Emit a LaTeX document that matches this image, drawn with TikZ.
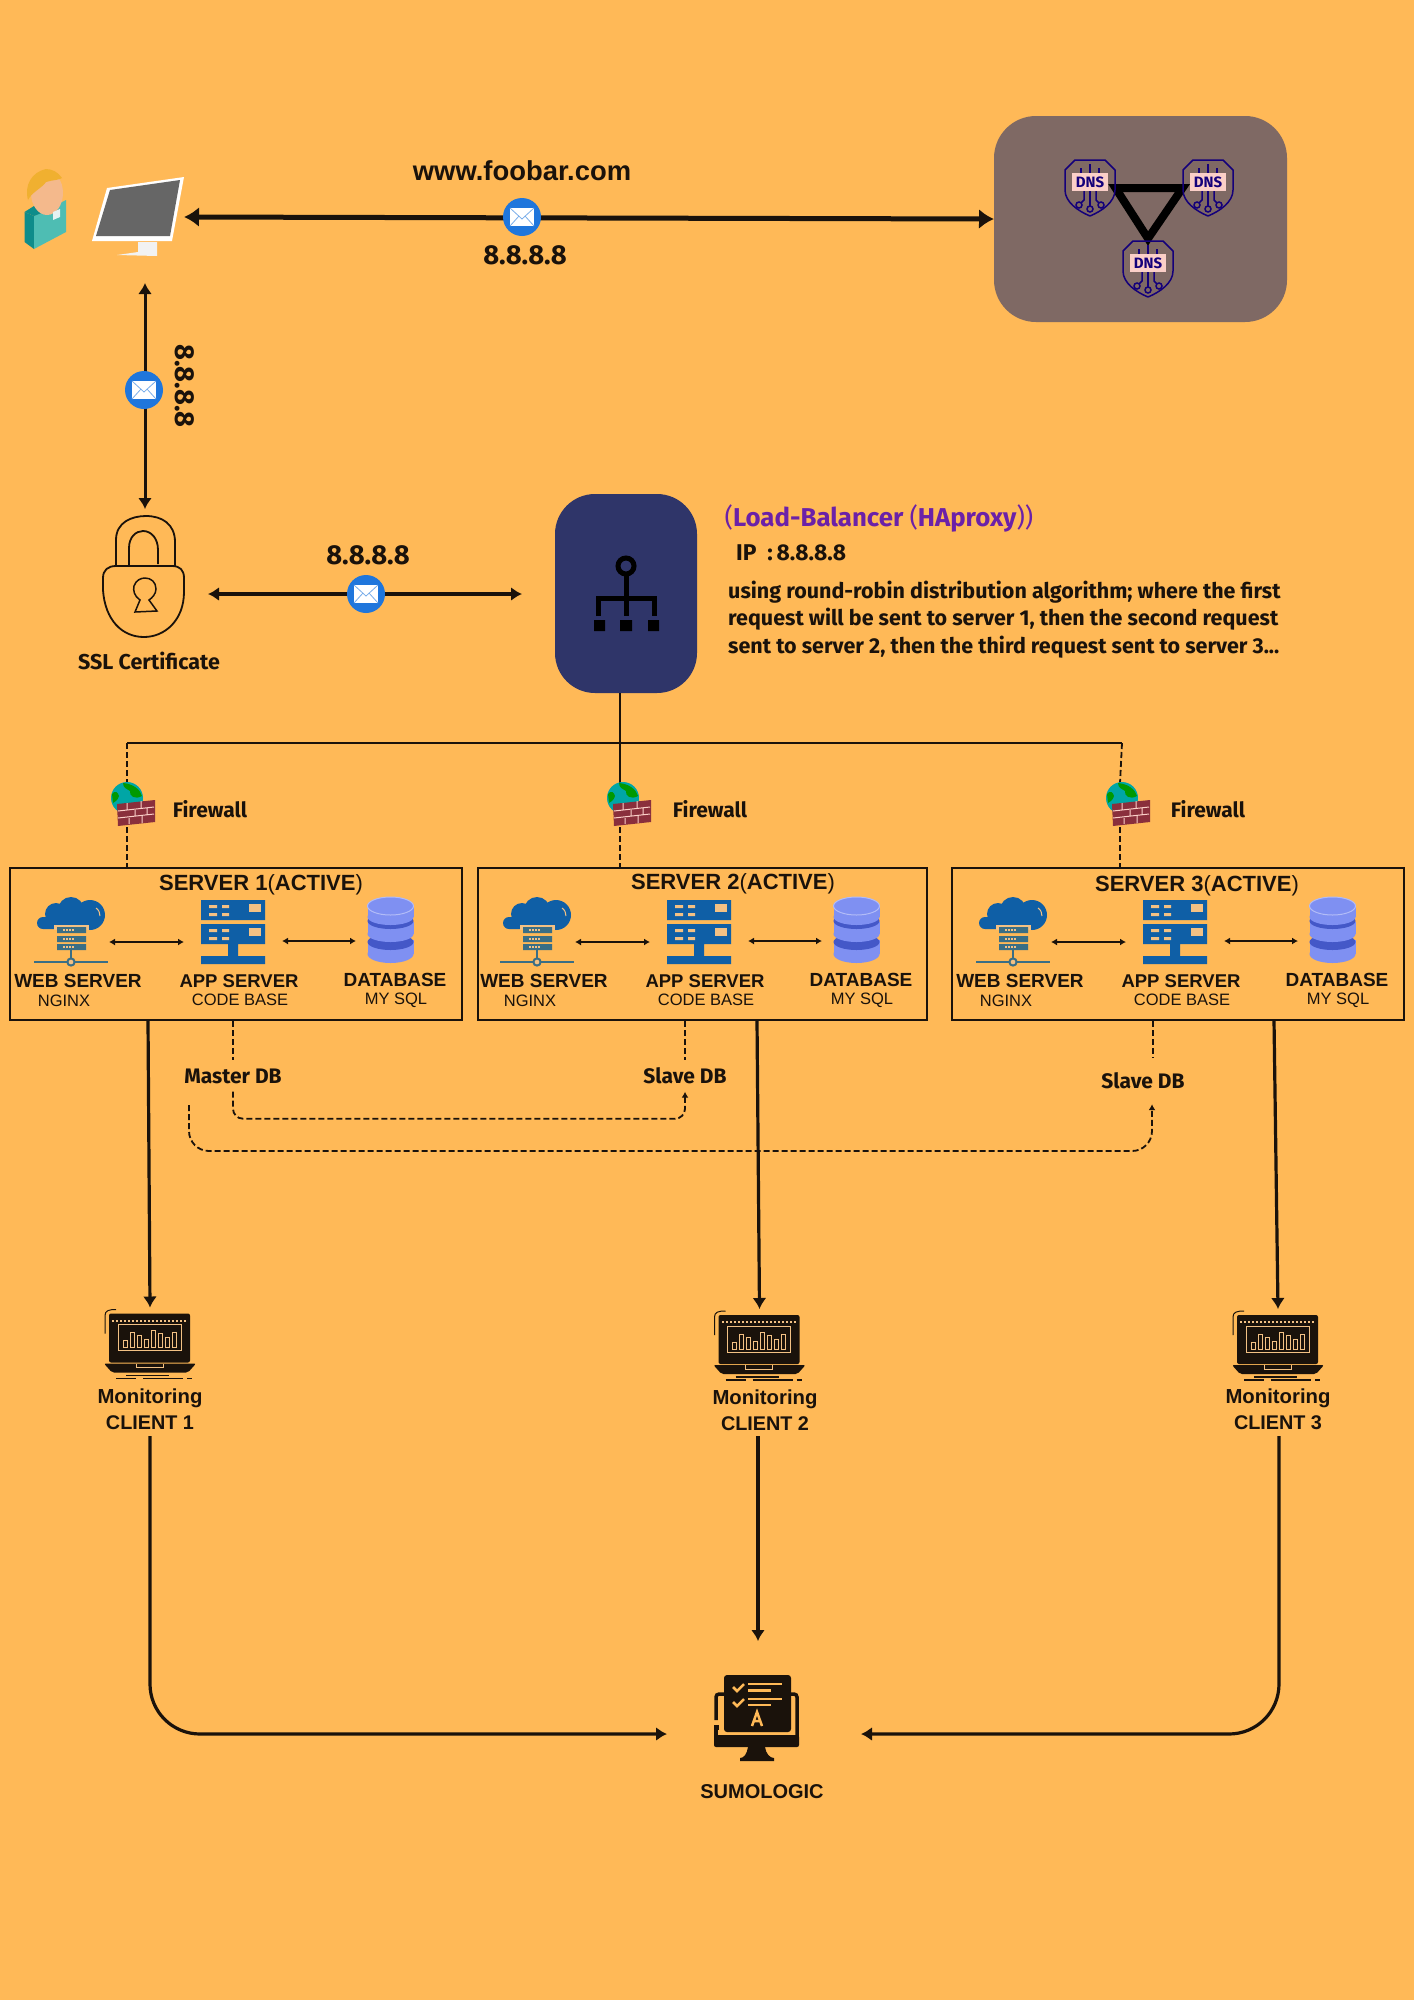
\documentclass[tikz,border=0pt]{standalone}
\usepackage{fontspec}
\setmainfont{Fira Sans}
\newfontfamily\capfont{Liberation Sans}
\usetikzlibrary{arrows.meta}
\definecolor{bgcolor}{HTML}{FFB957}
\definecolor{inkcolor}{HTML}{1A120B}
\definecolor{dnscolor}{HTML}{7F6964}
\definecolor{lbcolor}{HTML}{2F3569}
\definecolor{mailblue}{HTML}{1F76DC}
\definecolor{iconblue}{HTML}{0F5FA6}
\definecolor{slatecolor}{HTML}{3A6E85}
\definecolor{dblight}{HTML}{7F90F2}
\definecolor{dbdark}{HTML}{4458C8}
\definecolor{navycolor}{HTML}{14007A}
\definecolor{pinkcolor}{HTML}{FBCFC8}
\definecolor{purplecolor}{HTML}{6B21A8}
\definecolor{tancolor}{HTML}{F3C184}
\definecolor{brickcolor}{HTML}{8A2F3C}
\definecolor{bodylight}{HTML}{4EBDB3}
\definecolor{bodydark}{HTML}{0E8C8A}
\definecolor{skincolor}{HTML}{F4B98C}
\definecolor{haircolor}{HTML}{F0B030}
\newcommand{\fsz}[1]{\fontsize{#1}{#1}\selectfont}
\tikzset{mailnode/.style = {circle, fill=mailblue, minimum size=38pt, inner sep=0pt}}
\tikzset{iconbox/.style = {inner sep=0pt, outer sep=0pt}}
\tikzset{dottext/.style = {text=inkcolor, inner sep=0pt, font=\fsz{27.4}\bfseries}}
\tikzset{midtext/.style = {text=inkcolor, inner sep=0pt, font=\fsz{21}\bfseries}}
\tikzset{captext/.style = {text=inkcolor, inner sep=0pt, font=\capfont\fsz{19}\bfseries}}
\tikzset{capsub/.style = {text=inkcolor, inner sep=0pt, font=\capfont\fsz{16.5}}}
\tikzset{dbtag/.style = {midtext, minimum height=31pt, minimum width=80pt}}
\tikzset{serverbox/.style = {draw=inkcolor, line width=2.2pt, inner sep=0pt, minimum height=152pt}}
\tikzset{bigarrow/.style = {draw=inkcolor, line width=5pt, {Latex[length=15pt, width=20pt]}-{Latex[length=15pt, width=20pt]}}}
\tikzset{sidearrow/.style = {draw=inkcolor, line width=3pt, {Latex[length=11pt, width=14pt]}-{Latex[length=11pt, width=14pt]}}}
\tikzset{midarrow/.style = {draw=inkcolor, line width=3.2pt, -{Latex[length=11pt, width=14pt]}}}
\tikzset{twoarrow/.style = {draw=inkcolor, line width=3.6pt, {Latex[length=11pt, width=14pt]}-{Latex[length=11pt, width=14pt]}}}
\tikzset{smallarrow/.style = {draw=inkcolor, line width=1.8pt, {Latex[length=6pt, width=7pt]}-{Latex[length=6pt, width=7pt]}}}
\tikzset{dashline/.style = {draw=inkcolor, line width=1.8pt, dash pattern=on 6pt off 3pt}}
\tikzset{dbroute/.style = {dashline, -{Latex[length=6pt, width=7pt]}}}
\tikzset{mailglyph/.pic = {
    \fill [white] (-12, -9) rectangle (12, 9);
    \draw [mailblue!60!white, line width=0.8pt] (-12, -9) -- (0, 2) -- (12, -9) (-12, 9) -- (-3, -1) (12, 9) -- (3, -1);
  }}
\tikzset{shieldglyph/.pic = {
    \draw [navycolor, line width=1.5pt, line join=round] (-15, -28) -- (15, -28) -- (25, -18) -- (25, 2)
      .. controls (25, 14) and (12, 23) .. (0, 28) .. controls (-12, 23) and (-25, 14) .. (-25, 2) -- (-25, -18) -- cycle;
    \draw [navycolor, line width=1.5pt] (0, -13) -- (0, -24) (-9, -13) -- (-9, -20) (9, -13) -- (9, -20) (0, 3) -- (0, 18);
    \draw [navycolor, line width=1.5pt] (-6, 3) -- (-6, 12) -- (-9, 15) (6, 3) -- (6, 12) -- (9, 15);
    \draw [navycolor, line width=1.5pt] (0, 21) circle [radius=3] (-11, 17) circle [radius=3] (11, 17) circle [radius=3];
    \fill [pinkcolor] (-18, -15) rectangle (18, 3);
  }}
\tikzset{wallglyph/.pic = {
    \fill [teal!70!cyan] (0, 0) circle [radius=16];
    \fill [green!60!black] (-4, -15) .. controls (6, -14) and (13, -9) .. (15, -2) .. controls (8, 2) and (2, -2) .. (3, -7) .. controls (0, -9) and (-4, -10) .. (-4, -15);
    \fill [green!60!black] (-15, -4) .. controls (-12, -8) and (-9, -6) .. (-8, -2) .. controls (-9, 2) and (-12, 4) .. (-14, 5) -- cycle;
    \fill [brickcolor] (-10, 6) -- (28, 2) -- (28, 24) -- (-9, 28) -- cycle;
    \draw [pinkcolor, line width=1pt] (-9, 13) -- (27, 9) (-9, 20) -- (27, 16) (0, 5) -- (0, 12) (14, 3) -- (14, 10) (8, 12) -- (8, 18) (20, 10) -- (20, 17) (2, 20) -- (2, 26) (15, 18) -- (15, 25);
  }}
\tikzset{webglyph/.pic = {
    \fill [iconblue, rounded corners=6pt] (-34, -15) rectangle (22, -3);
    \fill [iconblue] (-15, -18) circle [radius=11] (0, -22) circle [radius=13] (19, -17) circle [radius=15];
    \draw [tancolor, line width=1pt] (25, -24) .. controls (28, -22) and (29, -19) .. (29, -16);
    \fill [tancolor] (-17, -7) rectangle (18, -2);
    \fill [slatecolor] (-14, -5) rectangle (15, 1) (-14, 4) rectangle (15, 10) (-14, 12) rectangle (15, 18);
    \draw [tancolor, line width=1.2pt, dash pattern=on 2pt off 1pt] (-8, -2) -- (3, -2) (-8, 7) -- (3, 7) (-8, 15) -- (3, 15);
    \draw [slatecolor, line width=2.4pt] (-37, 30) -- (37, 30) (0, 18) -- (0, 30);
    \fill [tancolor, draw=slatecolor, line width=2pt] (0, 30) circle [radius=3.6];
  }}
\tikzset{appglyph/.pic = {
    \fill [iconblue] (-32, -32) rectangle (32, -12) (-32, -8) rectangle (32, 12) (-5, 12) rectangle (5, 24) (-32, 24) rectangle (32, 32);
    \foreach \top in {-32, -8} {
      \fill [tancolor] (-24, \top+5) rectangle (-16, \top+8) (-11, \top+5) rectangle (-4, \top+8);
      \fill [tancolor] (-24, \top+13) rectangle (-16, \top+16) (-11, \top+13) rectangle (-4, \top+16);
      \fill [tancolor] (16, \top+4) rectangle (28, \top+12);
    }
  }}
\tikzset{dbglyph/.pic = {
    \fill [dblight] (-23, 10) rectangle (23, 24);
    \fill [dblight] (0, 24) ellipse [x radius=23, y radius=9];
    \fill [dbdark] (0, 12) ellipse [x radius=23, y radius=8];
    \fill [dblight] (-23, -8) rectangle (23, 4);
    \fill [dblight] (0, 4) ellipse [x radius=23, y radius=8];
    \fill [dbdark] (0, -9) ellipse [x radius=23, y radius=8];
    \fill [dblight] (-23, -24) rectangle (23, -13);
    \fill [dblight] (0, -13) ellipse [x radius=23, y radius=8];
    \draw [dblight!60!white, fill=dblight, line width=1pt] (0, -24) ellipse [x radius=23, y radius=9];
  }}
\tikzset{laptopglyph/.pic = {
    \fill [inkcolor, rounded corners=2pt] (-41, -30) rectangle (40, 19);
    \foreach \px in {-38, -34, ..., 36} {\fill [tancolor] (\px, -24) rectangle +(2, 2);}
    \draw [tancolor, line width=0.9pt] (-32, -19) rectangle (31, 7);
    \foreach \px/\tall in {-27/7, -20/15, -13/12, -6/8, 1/17, 8/14, 15/10, 22/15} {
      \draw [tancolor, line width=0.9pt] (\px, 4) rectangle (\px+4, 4-\tall);
    }
    \fill [inkcolor, rounded corners=2pt] (-46, 20) -- (46, 20) -- (38, 29) -- (-38, 29) -- cycle;
    \draw [tancolor, line width=0.9pt] (-14, 20) -- (-14, 24) -- (13, 24) -- (13, 20);
    \draw [inkcolor, line width=1.2pt] (-34, 35) -- (-14, 35) (-7, 35) -- (33, 35) (37, 35) -- (42, 35) (-24, 32) -- (19, 32);
    \draw [inkcolor, line width=1pt] (-45, -10) -- (-45, -28) .. controls (-45, -33) and (-41, -34) .. (-34, -34);
  }}
\begin{document}
\begin{tikzpicture}[x=1pt, y=-1pt]
  \fill [bgcolor] (0, 0) rectangle (1414, 2000);
  \useasboundingbox (0, 0) rectangle (1414, 2000);

  \fill [bodydark] (24.5, 212) -- (34, 216) -- (34, 249) -- (24.5, 242) -- cycle;
  \fill [bodylight] (34, 216) -- (66, 200) -- (66, 232) -- (34, 249) -- cycle;
  \fill [bodydark] (24.5, 212) -- (34, 206) -- (44, 212) -- (34, 216) -- cycle;
  \fill [skincolor] (47, 193) ellipse [x radius=16, y radius=22];
  \fill [haircolor] (46, 169) .. controls (32, 172) and (24, 185) .. (28, 200) .. controls (32, 192) and (42, 188) .. (46, 182) .. controls (52, 180) and (60, 180) .. (62, 178) .. controls (58, 172) and (52, 169) .. (46, 169);
  \fill [white!90!teal] (53, 212) -- (60, 209) -- (60, 217) -- (53, 220) -- cycle;

  \node [iconbox, minimum width=92pt, minimum height=80pt] (monitor) at (138, 217) {};
  \fill [white] (107, 188) -- (184, 177) -- (172, 241) -- (92, 241) -- cycle;
  \fill [gray!80!black] (110, 190) -- (180, 180) -- (170, 236) -- (96, 236) -- cycle;
  \fill [white!90!gray] (138, 242) -- (157, 242) -- (157, 256) -- (117, 255) -- (138, 252) -- cycle;

  \node [iconbox, fill=dnscolor, rounded corners=42pt, minimum width=293pt, minimum height=206pt] (dnsbox) at (1140.5, 219) {};
  \foreach \i/\px/\py in {a/1090/188, b/1208/188, c/1148/269} {
    \node [iconbox, minimum width=51pt, minimum height=57pt] (dns\i) at (\px, \py) {};
  }
  \draw [black, line width=8pt] (dnsa.east) -- (dnsb.west) -- ([yshift=2pt]dnsc.north) -- cycle;
  \foreach \i/\px/\py in {a/1090/188, b/1208/188, c/1148/269} {
    \pic at (dns\i) {shieldglyph};
    \node [iconbox, text=navycolor, font=\fsz{15}\bfseries] (dnstext\i) at (\px, \py-6) {DNS};
  }

  \draw [bigarrow] (monitor.east) -- (dnsbox.west);
  \node [mailnode] (mailtop) at (522, 217) {};
  \pic at (mailtop) {mailglyph};
  \node [captext, font=\capfont\fsz{27.4}\bfseries] (urltext) at (522, 171) {www.foobar.com};
  \node [dottext] (iptop) at (525, 255) {8.8.8.8};

  \coordinate (usertip) at (145, 283);
  \node [iconbox, minimum width=126pt, minimum height=128pt] (lock) at (145, 573) {};
  \draw [sidearrow] (usertip) -- (lock.north);
  \node [mailnode] (mailside) at (144, 390) {};
  \pic at (mailside) {mailglyph};
  \node [dottext, rotate=-90] (ipside) at (185, 386) {8.8.8.8};

  \draw [inkcolor, line width=1.8pt] (103, 578) .. controls (103, 570) and (108, 566) .. (116, 566) -- (172, 566)
    .. controls (180, 566) and (184, 570) .. (184, 578) -- (184, 592) .. controls (184, 620) and (165, 637) .. (144, 637)
    .. controls (122, 637) and (105, 620) .. (103, 590) -- cycle;
  \draw [inkcolor, line width=1.8pt] (116, 566) -- (116, 540) .. controls (116, 522) and (132, 516) .. (146, 516)
    .. controls (162, 516) and (175, 524) .. (175, 542) -- (175, 566);
  \draw [inkcolor, line width=1.8pt] (129, 565) -- (129, 548) .. controls (129, 537) and (136, 531) .. (143, 531)
    .. controls (151, 531) and (158, 538) .. (158, 550) -- (158, 564);
  \draw [inkcolor, line width=1.5pt] (135, 612) -- (140, 600) .. controls (134, 596) and (133, 590) .. (134, 586)
    .. controls (136, 580) and (141, 578) .. (145, 578) .. controls (151, 578) and (156, 582) .. (156, 589)
    .. controls (156, 594) and (152, 598) .. (149, 600) -- (157, 611) -- cycle;
  \node [midtext, font=\fsz{21.5}\bfseries] (ssltext) at (149, 661) {SSL Certificate};

  \coordinate (sslright) at (208, 594);
  \coordinate (lbleft) at (522, 594);
  \draw [twoarrow] (sslright) -- (lbleft);
  \node [mailnode] (mailmid) at (366, 594) {};
  \pic at (mailmid) {mailglyph};
  \node [dottext] (ipmid) at (368, 555) {8.8.8.8};

  \node [iconbox, fill=lbcolor, rounded corners=40pt, minimum width=142pt, minimum height=199pt] (lbbox) at (626, 593.5) {};
  \draw [black, line width=5pt] (626, 566) circle [radius=8];
  \draw [black, line width=5pt] (626, 574) -- (626, 616) (598, 616) -- (598, 598) -- (654, 598) -- (654, 616);
  \fill [black] (594, 620) rectangle (605, 631) (620, 620) rectangle (632, 631) (648, 620) rectangle (659, 631);

  \node [iconbox, anchor=center, text=purplecolor, font=\fsz{25.8}\bfseries] (lbtitle) at (879, 518) {{\mdseries (}Load-Balancer {\mdseries (}HAproxy{\mdseries ))}};
  \node [midtext, anchor=west, font=\fsz{22.8}\bfseries] (lbip) at (736, 553) {IP\ \ :\,8.8.8.8};
  \node [midtext, anchor=west, align=left, font=\fsz{21.5}\bfseries] (lbtext) at (728, 619.5) {using round-robin distribution algorithm; where the first\\[4.5pt]request will be sent to server 1, then the second request\\[4.5pt]sent to server 2, then the third request sent to server 3...};

  \coordinate (lbfoot) at (620, 693);
  \coordinate (busl) at (127, 743);
  \coordinate (busm) at (620, 743);
  \coordinate (busr) at (1122, 743);
  \foreach \i/\px/\tx in {1/127/210, 2/620/710, 3/1120/1208} {
    \node [iconbox, minimum width=38pt, minimum height=44pt] (wall\i) at (\px, 805) {};
    \node [midtext] (walltext\i) at (\tx, 809) {Firewall};
  }
  \draw [inkcolor, line width=2pt] (busl) -- (busr);
  \draw [inkcolor, line width=2pt] (lbfoot) -- (busm) -- (wall2.north);
  \draw [dashline] (busl) -- (wall1.north);
  \draw [dashline] (busr) -- (wall3.north);

  \foreach \i/\cx/\bw/\tx/\ty/\dx/\gx in {1/236/452/261/885/0/127, 2/702.5/449/733/884/466/623, 3/1178/452/1197/886/942/1122} {
    \pic at (\gx, 798) {wallglyph};
    \node [serverbox, minimum width=\bw pt] (server\i) at (\cx, 944) {};
    \draw [dashline] (wall\i.south) -- (wall\i.south |- server\i.north);
    \node [captext, font=\capfont\fsz{22}\bfseries] (title\i) at (\tx, \ty) {SERVER \i{\mdseries (}ACTIVE{\mdseries )}};
    \node [iconbox, minimum width=74pt, minimum height=70pt] (web\i) at (71+\dx, 932) {};
    \node [iconbox, minimum width=64pt, minimum height=64pt] (app\i) at (233+\dx, 932) {};
    \node [iconbox, minimum width=47pt, minimum height=66pt] (data\i) at (390.5+\dx, 930) {};
    \pic at (web\i) {webglyph};
    \pic at (app\i) {appglyph};
    \pic at (data\i) {dbglyph};
    \draw [smallarrow, shorten >=17pt, shorten <=1pt] ([yshift=-10pt]web\i.east) -- ([yshift=-10pt]app\i.west);
    \draw [smallarrow, shorten >=11pt, shorten <=17pt] ([yshift=-9pt]app\i.east) -- ([yshift=-11pt]data\i.west);
    \node [captext] (webtext\i) at (78+\dx, 981) {WEB SERVER};
    \node [capsub] (websub\i) at (64+\dx, 1001) {NGINX};
    \node [captext, font=\capfont\fsz{18.5}\bfseries] (apptext\i) at (239+\dx, 981) {APP SERVER};
    \node [capsub] (appsub\i) at (240+\dx, 1000) {CODE BASE};
    \node [captext] (datatext\i) at (395+\dx, 980) {DATABASE};
    \node [capsub] (datasub\i) at (396+\dx, 1000) {MY SQL};
  }

  \node [dbtag] (master) at (233, 1076) {Master DB};
  \node [dbtag] (slavea) at (685, 1076) {Slave DB};
  \node [dbtag, minimum height=46pt] (slaveb) at (1143, 1081) {Slave DB};
  \draw [dashline] (master.north |- server1.south) -- (master.north);
  \draw [dashline] (slavea.north |- server2.south) -- (slavea.north);
  \draw [dashline] ([xshift=10pt]slaveb.north |- server3.south) -- ([xshift=10pt]slaveb.north);
  \draw [dbroute, rounded corners=10pt] (master.south) -- ++(0, 27) -| (slavea.south);
  \coordinate (masterfar) at (189, 1105);
  \draw [dbroute, rounded corners=20pt] (masterfar) -- ++(0, 46) -| ([xshift=9pt]slaveb.south);

  \foreach \i/\px/\py/\tx/\ty/\ox/\cx in {1/150/1343.5/150/1398/148/150, 2/759.5/1345/765/1399/757/758, 3/1278/1345/1278/1398/1274/1279} {
    \node [iconbox, minimum width=92pt, minimum height=72pt] (laptop\i) at (\px, \py) {};
    \pic at (laptop\i) {laptopglyph};
    \node [captext, font=\capfont\fsz{20.3}\bfseries] (mon\i) at (\tx, \ty) {Monitoring};
    \node [captext, font=\capfont\fsz{19.8}\bfseries] (client\i) at (\tx, \ty+25) {CLIENT \i};
    \coordinate (srvout\i) at (\ox, 1020);
    \coordinate (clout\i) at (\cx, 1436);
    \draw [midarrow] (srvout\i) -- (laptop\i.north);
  }

  \node [iconbox, minimum width=85pt, minimum height=86pt] (sumo) at (756.5, 1718) {};
  \draw [inkcolor, line width=3.5pt, rounded corners=3pt] (716, 1720) -- (716, 1694) -- (797, 1694) -- (797, 1738);
  \fill [inkcolor, rounded corners=2pt] (714, 1735) rectangle (799, 1747);
  \fill [inkcolor] (714, 1725) rectangle (719, 1738);
  \fill [bgcolor] (718, 1730) rectangle (795, 1735);
  \fill [inkcolor, rounded corners=3pt] (724, 1675) rectangle (791, 1732);
  \fill [inkcolor] (748, 1747) -- (765, 1747) .. controls (766, 1754) and (770, 1758) .. (774, 1758) -- (774, 1761) -- (740, 1761) -- (740, 1758) .. controls (744, 1758) and (747, 1754) .. (748, 1747) -- cycle;
  \draw [bgcolor, line width=2.5pt] (748, 1684) -- (782, 1684) (748, 1690.5) -- (771, 1690.5) (748, 1699) -- (782, 1699) (748, 1705) -- (771, 1705);
  \draw [bgcolor, line width=2.5pt] (733, 1687) -- (737, 1691) -- (744, 1684) (733, 1702) -- (737, 1706) -- (744, 1699);
  \draw [bgcolor, line width=2.5pt] (752, 1726) -- (757, 1712) -- (762, 1726) (754, 1721) -- (760, 1721);
  \node [captext, font=\capfont\fsz{20}\bfseries] (sumotext) at (762, 1792) {SUMOLOGIC};

  \coordinate (sumol) at (667, 1734);
  \coordinate (sumor) at (861, 1734);
  \coordinate (sumot) at (758, 1641);
  \draw [midarrow, rounded corners=50pt] (clout1) |- (sumol);
  \draw [midarrow] (clout2) -- (sumot);
  \draw [midarrow, rounded corners=50pt] (clout3) |- (sumor);
\end{tikzpicture}
\end{document}
